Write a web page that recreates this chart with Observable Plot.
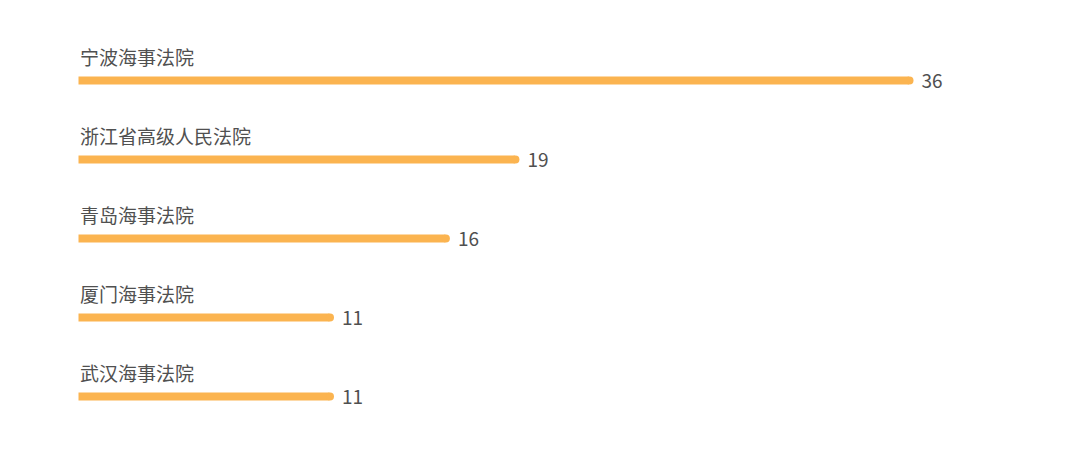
<!DOCTYPE html>
<html><head><meta charset="utf-8">
<script src="https://cdn.jsdelivr.net/npm/d3@7"></script>
<script src="https://cdn.jsdelivr.net/npm/@observablehq/plot@0.6"></script>
<style>
html,body{margin:0;padding:0;background:#fff;}
svg{display:block;}
</style>
</head><body>
<div id="chart"></div>
<script>
const courts = ["宁波海事法院","浙江省高级人民法院","青岛海事法院","厦门海事法院","武汉海事法院"];
const counts = [36,19,16,11,11];
const data = courts.map((c,i)=>({court:c,count:counts[i]}));
const barColor = "#FBB450";
const textColor = "#505050";
const font = "'Noto Sans CJK SC','Noto Sans',sans-serif";

const chart = Plot.plot({
  width:1080, height:476,
  marginLeft:0, marginRight:0, marginTop:0, marginBottom:0,
  style:{fontFamily:font, background:"#fff"},
  x:{domain:[0,36], range:[78.5,913], axis:null},
  y:{type:"point", domain:courts, range:[79,396.5], padding:0, axis:null},
  marks:[
    Plot.ruleY(data,{y:"court", x1:0, x2:"count", insetRight:4, stroke:barColor, strokeWidth:8, strokeLinecap:"butt"}),
    Plot.dot(data,{y:"court", x:"count", dx:-4, r:4, fill:barColor, stroke:null}),
    Plot.text(data,{y:"court", x:0, text:"court", textAnchor:"start", dx:1, dy:-22, fontSize:19, fill:textColor}),
    Plot.text(data,{y:"court", x:"count", text:d=>String(d.count), textAnchor:"start", dx:8, dy:1, fontSize:19, fill:textColor})
  ]
});
document.getElementById("chart").appendChild(chart);
</script>
</body></html>
